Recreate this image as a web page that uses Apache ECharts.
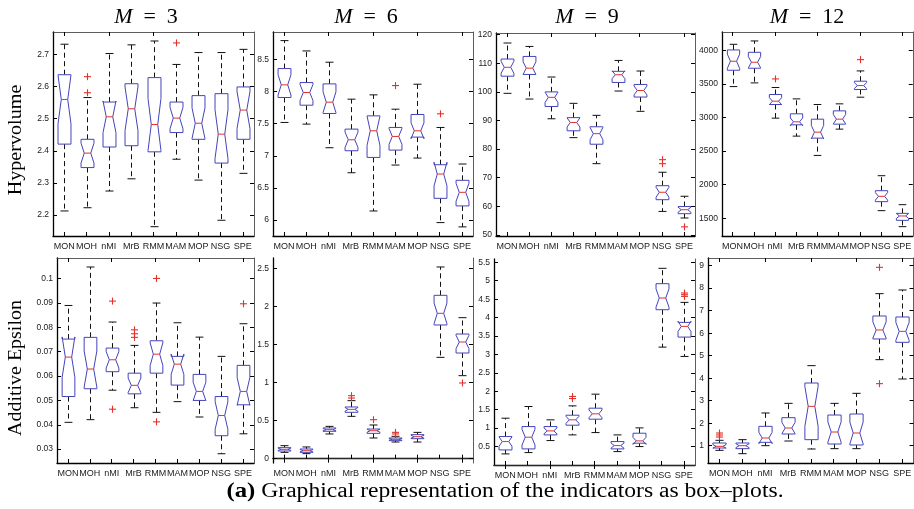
<!DOCTYPE html>
<html>
<head>
<meta charset="utf-8">
<script src="https://cdn.jsdelivr.net/npm/echarts@6/dist/echarts.min.js"></script>
<style>
html,body{margin:0;padding:0;background:#fff;}
#chart{width:914px;height:509px;}
</style>
</head>
<body>
<div id="chart"></div>
<script>
// ---------------- DATA ----------------
const categories = ['MON','MOH','nMI','MrB','RMM','MAM','MOP','NSG','SPE'];
// each box: [lower whisker, Q1, median, Q3, upper whisker]
const hvM3 = [
  [2.213,2.421,2.560,2.637,2.732],[2.223,2.348,2.393,2.436,2.566],[2.275,2.412,2.506,2.552,2.703],
  [2.313,2.416,2.531,2.609,2.730],[2.164,2.397,2.482,2.628,2.742],[2.374,2.457,2.502,2.552,2.669],
  [2.309,2.436,2.486,2.572,2.706],[2.184,2.362,2.452,2.578,2.706],[2.330,2.436,2.527,2.599,2.716]
];
const hvM3Out = [[1,2.631],[1,2.581],[5,2.736]];
const hvM6 = [
  [7.520,7.909,8.106,8.360,8.796],[7.494,7.789,7.987,8.142,8.635],[7.126,7.660,7.836,8.121,8.459],
  [6.736,7.079,7.250,7.416,7.883],[6.140,6.975,7.390,7.623,7.950],[6.856,7.089,7.302,7.442,7.727],
  [6.965,7.292,7.390,7.644,8.116],[5.959,6.337,6.716,6.861,7.442],[5.892,6.219,6.431,6.618,6.872]
];
const hvM6Out = [[5,8.095],[7,7.655]];
const hvM9 = [
  [99.5,105.5,108.6,111.5,117.1],[97.5,106.1,108.3,112.4,115.9],[90.6,94.9,98.1,100.0,105.2],
  [84.0,86.4,89.3,91.0,96.0],[74.9,81.7,85.4,87.8,91.8],[100.3,103.3,106.0,107.2,111.0],
  [93.2,98.2,100.5,102.6,107.3],[58.2,62.3,64.9,67.2,71.9],[55.9,57.4,58.8,59.9,63.5]
];
const hvM9Out = [[7,76.3],[7,74.9],[8,52.8]];
const hvM12 = [
  [3460,3703,3837,4005,4089],[3515,3733,3822,3970,4139],[2990,3193,3243,3342,3446],
  [2723,2891,2936,3055,3277],[2436,2693,2782,2975,3193],[2827,2901,2975,3099,3203],
  [3302,3416,3475,3540,3693],[1614,1748,1827,1911,2134],[1376,1470,1535,1574,1703]
];
const hvM12Out = [[2,3574],[6,3861]];
const aeM3 = [
  [0.0410,0.0516,0.0678,0.0752,0.0890],[0.0421,0.0548,0.0629,0.0759,0.1048],[0.0542,0.0618,0.0667,0.0715,0.0822],
  [0.0470,0.0527,0.0562,0.0612,0.0726],[0.0451,0.0612,0.0690,0.0745,0.0900],[0.0495,0.0563,0.0649,0.0681,0.0819],
  [0.0432,0.0500,0.0537,0.0607,0.0760],[0.0281,0.0355,0.0438,0.0516,0.0681],[0.0363,0.0482,0.0537,0.0644,0.0815]
];
const aeM3Out = [[2,0.0908],[2,0.0464],[3,0.0790],[3,0.0774],[3,0.0759],[4,0.1001],[4,0.0412],[8,0.0897]];
const aeM6 = [
  [0.083,0.101,0.123,0.145,0.171],[0.066,0.083,0.105,0.127,0.154],[0.325,0.360,0.382,0.404,0.425],
  [0.557,0.610,0.649,0.680,0.763],[0.272,0.333,0.368,0.390,0.443],[0.219,0.237,0.254,0.272,0.294],
  [0.219,0.263,0.289,0.316,0.346],[1.333,1.759,1.912,2.149,2.522],[1.092,1.390,1.535,1.640,1.855]
];
const aeM6Out = [[3,0.829],[3,0.798],[4,0.513],[5,0.346],[5,0.325],[8,0.996]];
const aeM9 = [
  [0.301,0.409,0.636,0.772,1.270],[0.337,0.437,0.754,1.043,1.587],[0.663,0.817,0.926,1.043,1.225],
  [0.817,1.080,1.225,1.351,1.605],[0.880,1.243,1.388,1.542,1.922],[0.364,0.437,0.527,0.636,0.817],
  [0.500,0.591,0.654,0.862,1.007],[3.199,4.214,4.531,4.920,5.337],[2.946,3.471,3.761,3.870,4.413]
];
const aeM9Out = [[3,1.859],[3,1.804],[8,4.667],[8,4.621],[8,4.576]];
const aeM12 = [
  [0.793,0.896,0.970,1.119,1.237],[0.644,0.867,1.000,1.119,1.267],[1.000,1.148,1.341,1.859,2.452],
  [1.207,1.519,1.785,2.244,2.881],[0.852,1.267,2.748,3.785,4.556],[0.867,1.074,1.607,2.363,2.881],
  [0.867,1.030,1.563,2.407,3.326],[4.822,5.741,6.141,6.763,7.756],[3.963,5.593,6.081,6.719,7.919]
];
const aeM12Out = [[0,1.563],[0,1.474],[0,1.385],[7,8.926],[7,3.756]];

// tick values
const hvM3Ticks = [2.2,2.3,2.4,2.5,2.6,2.7];
const hvM6Ticks = [6,6.5,7,7.5,8,8.5];
const hvM9Ticks = [50,60,70,80,90,100,110,120];
const hvM12Ticks = [1500,2000,2500,3000,3500,4000];
const aeM3Ticks = [0.03,0.04,0.05,0.06,0.07,0.08,0.09,0.1];
const aeM6Ticks = [0,0.5,1,1.5,2,2.5];
const aeM9Ticks = [0.5,1,1.5,2,2.5,3,3.5,4,4.5,5,5.5];
const aeM12Ticks = [1,2,3,4,5,6,7,8,9];

const titles = ['3','6','9','12'];
const rowNames = ['Hypervolume','Additive Epsilon'];
const caption = 'Graphical representation of the indicators as box\u2013plots.';
const N_RUNS = 20; // sample size used for notch width (MATLAB notch rule)

// ---------------- LAYOUT ----------------
const panels = [
  {boxes:hvM3, out:hvM3Out, ticks:hvM3Ticks, min:2.135, max:2.77, grid:{left:53,top:32,width:201,height:204}},
  {boxes:hvM6, out:hvM6Out, ticks:hvM6Ticks, min:5.75, max:8.93, grid:{left:273,top:32,width:200,height:204}},
  {boxes:hvM9, out:hvM9Out, ticks:hvM9Ticks, min:49.6, max:120.6, grid:{left:496,top:33,width:199,height:203}},
  {boxes:hvM12, out:hvM12Out, ticks:hvM12Ticks, min:1237, max:4272, grid:{left:722,top:32,width:194,height:204}},
  {boxes:aeM3, out:aeM3Out, ticks:aeM3Ticks, min:0.0243, max:0.1085, grid:{left:57,top:258,width:197,height:205}},
  {boxes:aeM6, out:aeM6Out, ticks:aeM6Ticks, min:-0.057, max:2.64, grid:{left:273,top:258,width:200,height:205}},
  {boxes:aeM9, out:aeM9Out, ticks:aeM9Ticks, min:0.0, max:5.59, grid:{left:494,top:259,width:201,height:206}},
  {boxes:aeM12, out:aeM12Out, ticks:aeM12Ticks, min:0.23, max:9.34, grid:{left:708,top:258,width:208,height:205}}
];

const BOX_COLOR = '#4444bb';
const MED_COLOR = '#e8302a';
const OUT_COLOR = '#e8302a';
const SANS = "'Liberation Sans',Arial,sans-serif";
const SERIF = "'Liberation Serif','DejaVu Serif',serif";

function renderBox(params, api) {
  const cat = api.value(0);
  const lo = api.value(1), q1 = api.value(2), md = api.value(3), q3 = api.value(4), hi = api.value(5);
  const band = api.size([1, 0])[0];
  const hw = band * 0.29;
  const cw = hw * 0.62;
  const nh = 1.57 * (q3 - q1) / Math.sqrt(N_RUNS);
  const cx = Math.round(api.coord([cat, md])[0]) + 0.5;
  const y = v => api.coord([cat, v])[1];
  const pts = [
    [cx-hw, y(q1)], [cx-hw, y(md-nh)], [cx-hw/2, y(md)], [cx-hw, y(md+nh)], [cx-hw, y(q3)],
    [cx+hw, y(q3)], [cx+hw, y(md+nh)], [cx+hw/2, y(md)], [cx+hw, y(md-nh)], [cx+hw, y(q1)]
  ];
  const dash = {stroke:'#111', lineWidth:1, lineDash:[5,3.5]};
  const solid = {stroke:'#111', lineWidth:1};
  return {type:'group', children:[
    {type:'line', shape:{x1:cx,y1:y(q3),x2:cx,y2:y(hi)}, style:dash},
    {type:'line', shape:{x1:cx,y1:y(q1),x2:cx,y2:y(lo)}, style:dash},
    {type:'line', shape:{x1:cx-cw,y1:y(hi),x2:cx+cw,y2:y(hi)}, style:solid},
    {type:'line', shape:{x1:cx-cw,y1:y(lo),x2:cx+cw,y2:y(lo)}, style:solid},
    {type:'polygon', shape:{points:pts}, style:{fill:'#fff', stroke:BOX_COLOR, lineWidth:1}},
    {type:'line', shape:{x1:cx-hw/2,y1:y(md),x2:cx+hw/2,y2:y(md)}, style:{stroke:MED_COLOR, lineWidth:1}}
  ]};
}
function renderOut(params, api) {
  const p = api.coord([api.value(0), api.value(1)]);
  const x = Math.round(p[0]) + 0.5, yy = p[1], a = 3.5;
  const st = {stroke:OUT_COLOR, lineWidth:1.1};
  return {type:'group', children:[
    {type:'line', shape:{x1:x-a,y1:yy,x2:x+a,y2:yy}, style:st},
    {type:'line', shape:{x1:x,y1:yy-a,x2:x,y2:yy+a}, style:st}
  ]};
}

const grid = [], xAxis = [], yAxis = [], series = [];
panels.forEach((p, i) => {
  grid.push(Object.assign({containLabel:false}, p.grid));
  const axLine = {show:true, lineStyle:{color:'#000', width:1.3}};
  const axLine2 = {show:true, lineStyle:{color:'#333', width:0.8}};
  xAxis.push({type:'category', gridIndex:i, data:categories, position:'bottom', boundaryGap:true,
    axisLine:axLine, axisTick:{show:true, inside:true, alignWithLabel:true, length:4, lineStyle:{color:'#000'}},
    axisLabel:{fontFamily:SANS, fontSize:9, color:'#222', margin:6, interval:0},
    splitLine:{show:false}});
  xAxis.push({type:'category', gridIndex:i, data:categories, position:'top', boundaryGap:true,
    axisLine:axLine2, axisTick:{show:true, inside:true, alignWithLabel:true, length:4, lineStyle:{color:'#000'}},
    axisLabel:{show:false}, splitLine:{show:false}});
  const yBase = {type:'value', gridIndex:i, min:p.min, max:p.max, scale:true, splitLine:{show:false}};
  yAxis.push(Object.assign({}, yBase, {position:'left',
    axisLine:axLine, axisTick:{show:true, inside:true, length:4, customValues:p.ticks, lineStyle:{color:'#000'}},
    axisLabel:{fontFamily:SANS, fontSize:8.5, color:'#222', margin:4, customValues:p.ticks,
      formatter: v => String(v)}}));
  yAxis.push(Object.assign({}, yBase, {position:'right',
    axisLine:axLine2, axisTick:{show:true, inside:true, length:4, customValues:p.ticks, lineStyle:{color:'#000'}},
    axisLabel:{show:false}}));
  series.push({type:'custom', xAxisIndex:2*i, yAxisIndex:2*i, renderItem:renderBox, clip:false,
    encode:{x:0, y:[1,2,3,4,5]}, data:p.boxes.map((b, k) => [k].concat(b)), silent:true});
  series.push({type:'custom', xAxisIndex:2*i, yAxisIndex:2*i, renderItem:renderOut, clip:false,
    encode:{x:0, y:1}, data:p.out, silent:true});
});

const titleX = [146, 366, 587, 807];
const graphics = titles.map((t, i) => ({
  type:'text', x:titleX[i], y:17,
  style:{text:'{i|M}\u2002=\u2002' + t, x:0, y:0, align:'center', verticalAlign:'middle',
    font:'22px ' + SERIF, fill:'#000',
    rich:{i:{fontStyle:'italic', fontFamily:SERIF, fontSize:22, fill:'#000'}}}
}));
// row (y-axis) names
graphics.push({type:'text', x:16, y:140, rotation:Math.PI/2, scaleX:1.06,
  style:{text:rowNames[0], align:'center', verticalAlign:'middle', font:'19px ' + SERIF, fill:'#000'}});
graphics.push({type:'text', x:16, y:368, rotation:Math.PI/2, scaleX:1.05,
  style:{text:rowNames[1], align:'center', verticalAlign:'middle', font:'19px ' + SERIF, fill:'#000'}});
// caption
graphics.push({
  type:'text', x:505, y:492, scaleX:1.18,
  style:{text:'{b|(a)} ' + caption, align:'center', verticalAlign:'middle',
    font:'20px ' + SERIF, fill:'#000',
    rich:{b:{fontWeight:'bold', fontFamily:SERIF, fontSize:21, fill:'#000'}}}
});

const chart = echarts.init(document.getElementById('chart'), null, {renderer:'canvas'});
chart.setOption({
  animation:false,
  backgroundColor:'#fff',
  grid, xAxis, yAxis, series,
  graphic: graphics
});
</script>
</body>
</html>
